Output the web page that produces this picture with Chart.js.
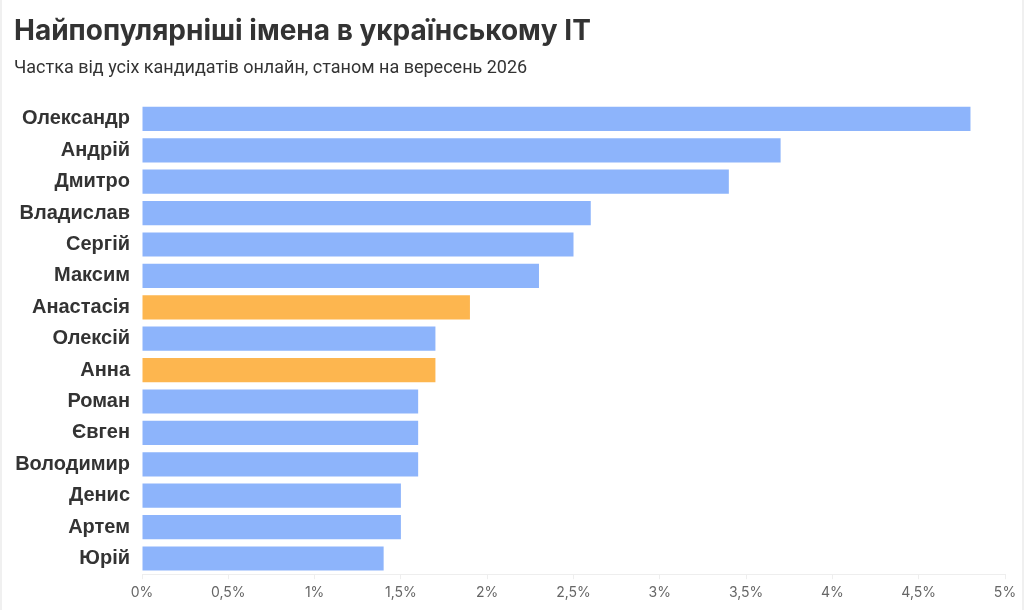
<!DOCTYPE html>
<html>
<head>
<meta charset="utf-8">
<script src="https://cdn.jsdelivr.net/npm/chart.js@4/dist/chart.umd.min.js"></script>
<style>
    html, body { margin: 0; padding: 0; background: #fff; }
    #wrap { width: 1024px; height: 610px; position: relative; box-sizing: border-box; border-left: 2px solid #f0f0f0; border-right: 2px solid #f0f0f0; }
</style>
</head>
<body>
<div id="wrap"><canvas id="chart"></canvas></div>
<script>
const names = ['Олександр', 'Андрій', 'Дмитро', 'Владислав', 'Сергій', 'Максим', 'Анастасія',
    'Олексій', 'Анна', 'Роман', 'Євген', 'Володимир', 'Денис', 'Артем', 'Юрій'];
const shares = [4.8, 3.7, 3.4, 2.6, 2.5, 2.3, 1.9, 1.7, 1.7, 1.6, 1.6, 1.6, 1.5, 1.5, 1.4];
const femaleNames = ['Анастасія', 'Анна'];
const xTicks = [0, 0.5, 1, 1.5, 2, 2.5, 3, 3.5, 4, 4.5, 5];

const blue = '#8db4fb';
const orange = '#fdb64f';

const ctx = document.getElementById('chart').getContext('2d');
new Chart(ctx, {
    type: 'bar',
    data: {
        labels: names,
        datasets: [{
            data: shares,
            backgroundColor: names.map(n => femaleNames.includes(n) ? orange : blue),
            borderWidth: 0,
            categoryPercentage: 0.77,
            barPercentage: 1
        }]
    },
    options: {
        indexAxis: 'y',
        responsive: true,
        maintainAspectRatio: false,
        animation: false,
        layout: { padding: { left: 12, right: 17, top: 15, bottom: 4 } },
        plugins: {
            legend: { display: false },
            tooltip: { enabled: false },
            title: {
                display: true,
                text: 'Найпопулярніші імена в українському IT',
                align: 'start',
                color: '#333',
                font: { family: 'Inter', size: 28, weight: 'bold' },
                padding: { top: 0, bottom: 9 }
            },
            subtitle: {
                display: true,
                text: 'Частка від усіх кандидатів онлайн, станом на вересень 2026',
                align: 'start',
                color: '#333',
                font: { family: 'Roboto', size: 18 },
                padding: { top: 0, bottom: 24 }
            }
        },
        scales: {
            x: {
                min: 0,
                max: 5,
                afterBuildTicks: axis => { axis.ticks = xTicks.map(v => ({ value: v })); },
                grid: { drawOnChartArea: false, drawTicks: true, tickLength: 5, color: '#eeeeee' },
                border: { display: true, color: '#eeeeee' },
                ticks: {
                    color: '#666',
                    font: { family: 'Inter', size: 14 },
                    padding: 5,
                    maxRotation: 0,
                    callback: v => String(v).replace('.', ',') + '%'
                }
            },
            y: {
                afterFit: axis => { axis.width = 128; },
                grid: { display: false, drawTicks: false },
                border: { display: false },
                ticks: {
                    color: '#333',
                    font: { family: 'Liberation Sans', size: 20, weight: 'bold' },
                    padding: 12
                }
            }
        }
    }
});
</script>
</body>
</html>
